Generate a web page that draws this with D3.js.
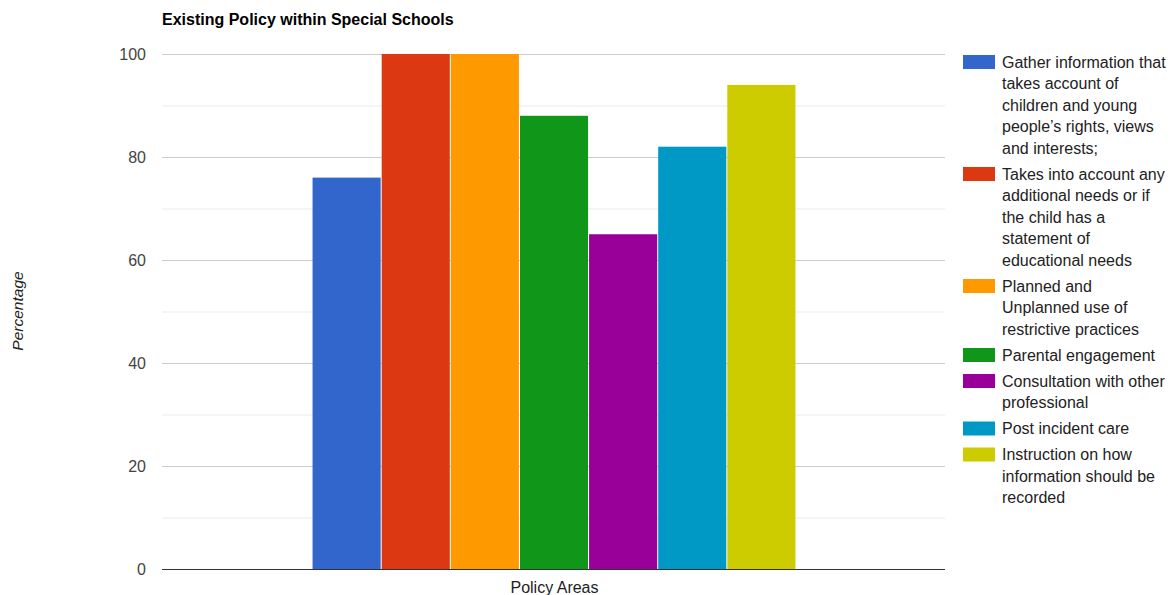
<!DOCTYPE html>
<html><head><meta charset="utf-8">
<script src="https://cdn.jsdelivr.net/npm/d3@7"></script>
<style>body{margin:0;background:#fff;font-family:"Liberation Sans",Arial,sans-serif;}</style>
</head><body><svg id="c" width="1175" height="595"></svg>
<script>
const seriesNames = [
  "Gather information that takes account of children and young people’s rights, views and interests;",
  "Takes into account any additional needs or if the child has a statement of educational needs",
  "Planned and Unplanned use of restrictive practices",
  "Parental engagement",
  "Consultation with other professional",
  "Post incident care",
  "Instruction on how information should be recorded"
];
const legendLines = [
  ["Gather information that","takes account of","children and young","people’s rights, views","and interests;"],
  ["Takes into account any","additional needs or if","the child has a","statement of","educational needs"],
  ["Planned and","Unplanned use of","restrictive practices"],
  ["Parental engagement"],
  ["Consultation with other","professional"],
  ["Post incident care"],
  ["Instruction on how","information should be","recorded"]
];
const values = [76, 100, 100, 88, 65, 82, 94];
const colors = ["#3366cc","#dc3912","#ff9900","#109618","#990099","#0099c6","#cccc00"];
const categories = ["Policy Areas"];
const yTicks = [0, 20, 40, 60, 80, 100];
const yMinor = [10, 30, 50, 70, 90];

const svg = d3.select("#c");
const L = 162, R = 945, T = 54, B = 569;
const y = d3.scaleLinear().domain([0, 100]).range([B, T]);
const xGroup = d3.scaleBand().domain(categories).range([L + 2, R]).paddingInner(0).paddingOuter(0.307);
const xS = d3.scaleBand().domain(d3.range(values.length)).range([xGroup(categories[0]), xGroup(categories[0]) + xGroup.bandwidth()]).paddingInner(0);

// gridlines
svg.append("g").selectAll("line").data(yMinor).join("line")
  .attr("x1", L).attr("x2", R).attr("y1", d => y(d) + 0.5).attr("y2", d => y(d) + 0.5)
  .attr("stroke", "#ebebeb").attr("stroke-width", 1);
svg.append("g").selectAll("line").data(yTicks.filter(d => d > 0)).join("line")
  .attr("x1", L).attr("x2", R).attr("y1", d => y(d) + 0.5).attr("y2", d => y(d) + 0.5)
  .attr("stroke", "#cccccc").attr("stroke-width", 1);

// bars
svg.append("g").selectAll("rect").data(values).join("rect")
  .attr("x", (d, i) => xS(i))
  .attr("y", d => y(d))
  .attr("width", xS.bandwidth() - 1)
  .attr("height", d => B - y(d))
  .attr("fill", (d, i) => colors[i]);

// baseline
svg.append("line").attr("x1", L).attr("x2", R).attr("y1", B + 0.5).attr("y2", B + 0.5)
  .attr("stroke", "#333").attr("stroke-width", 1);

// y axis labels
const yAxis = d3.axisLeft(y).tickValues(yTicks).tickSize(0).tickPadding(16);
const ya = svg.append("g").attr("transform", `translate(${L},0)`).call(yAxis);
ya.select(".domain").remove();
ya.selectAll("text").attr("font-size", 16).attr("fill", "#444").attr("font-family", "Liberation Sans, Arial, sans-serif");

// x axis label
svg.append("text").attr("x", xGroup(categories[0]) + xGroup.bandwidth() / 2).attr("y", 593)
  .attr("text-anchor", "middle").attr("font-size", 16).attr("fill", "#222").text(categories[0]);

// y title
svg.append("text").attr("transform", "translate(23,311) rotate(-90)")
  .attr("text-anchor", "middle").attr("font-size", 15.5).attr("font-style", "italic").attr("fill", "#222")
  .text("Percentage");

// title
svg.append("text").attr("x", 162).attr("y", 25).attr("font-size", 16).attr("font-weight", "bold")
  .attr("fill", "#000").text("Existing Policy within Special Schools");

// legend
const lg = svg.append("g");
let ly = 62;
const lh = 21.5;
legendLines.forEach((lines, i) => {
  lg.append("rect").attr("x", 963).attr("y", ly - 7).attr("width", 32).attr("height", 14).attr("fill", colors[i]);
  const t = lg.append("text").attr("x", 1002).attr("y", ly + 5.5).attr("font-size", 16).attr("fill", "#222");
  lines.forEach((s, j) => t.append("tspan").attr("x", 1002).attr("dy", j === 0 ? 0 : lh).text(s));
  ly += (lines.length - 1) * lh + 26;
});
</script></body></html>
